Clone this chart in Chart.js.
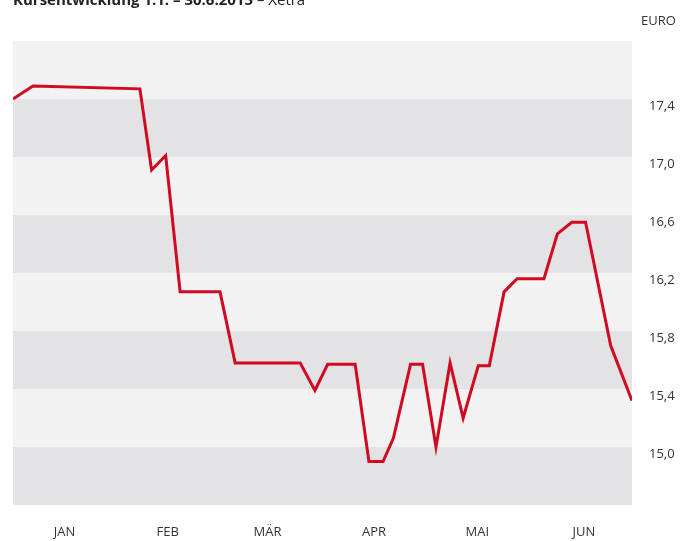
<!DOCTYPE html>
<html>
<head>
<meta charset="utf-8">
<script src="https://cdn.jsdelivr.net/npm/chart.js@4"></script>
<style>
  html, body { margin: 0; padding: 0; background: #fff; }
  #wrap { width: 686px; height: 541px; }
</style>
</head>
<body>
<div id="wrap"><canvas id="kursChart" width="686" height="541"></canvas></div>
<script>
// Tage seit 1.1.2015 und Schlusskurse (EURO)
const tradeDays = [0, 5.8, 36.9, 40.3, 44.4, 48.6, 60.2, 64.6, 83.5, 87.8, 91.5, 99.5, 103.5, 107.6, 110.6, 115.6, 119.1, 123.0, 127.1, 130.9, 135.3, 138.5, 142.8, 146.6, 154.4, 158.3, 162.5, 166.5, 173.8, 180];
const prices    = [17.40, 17.49, 17.47, 16.91, 17.01, 16.07, 16.07, 15.58, 15.58, 15.39, 15.57, 15.57, 14.90, 14.90, 15.06, 15.57, 15.57, 15.00, 15.58, 15.20, 15.56, 15.56, 16.07, 16.16, 16.16, 16.47, 16.55, 16.55, 15.70, 15.32];

const months    = ["JAN", "FEB", "MÄR", "APR", "MAI", "JUN"];
const monthMid  = [15, 45, 74, 105, 135, 166];
const yTicks    = [14.6, 15.0, 15.4, 15.8, 16.2, 16.6, 17.0, 17.4, 17.8];

const fontFam = "'Open Sans', 'Noto Sans', sans-serif";

// abwechselnd helle und dunkle Streifen
const bands = {
  id: "bands",
  beforeDatasetsDraw(chart) {
    const { ctx, chartArea, scales } = chart;
    const y = scales.y;
    ctx.save();
    for (let i = 0; i < yTicks.length - 1; i++) {
      const top = y.getPixelForValue(yTicks[i + 1]);
      const bot = y.getPixelForValue(yTicks[i]);
      ctx.fillStyle = i % 2 === 0 ? "#e3e3e5" : "#f2f2f2";
      ctx.fillRect(chartArea.left, top, chartArea.right - chartArea.left, bot - top);
    }
    ctx.restore();
  },
  afterDraw(chart) {
    const ctx = chart.ctx;
    ctx.save();
    ctx.fillStyle = "#222";
    ctx.textBaseline = "alphabetic";
    ctx.font = "bold 15px " + fontFam;
    const t1 = "Kursentwicklung 1.1. – 30.6.2015";
    ctx.fillText(t1, 13, 5);
    const w = ctx.measureText(t1 + " ").width;
    ctx.font = "15px " + fontFam;
    ctx.fillText("– Xetra", 13 + w, 5);
    ctx.fillStyle = "#333";
    ctx.font = "13px " + fontFam;
    ctx.textBaseline = "middle";
    ctx.fillText("EURO", 641, 21);
    ctx.restore();
  }
};

new Chart(document.getElementById("kursChart"), {
  type: "line",
  data: {
    datasets: [{
      data: tradeDays.map((d, i) => ({ x: d, y: prices[i] })),
      borderColor: "#d10a22",
      borderWidth: 3,
      borderJoinStyle: "miter",
      pointRadius: 0,
      tension: 0,
      fill: false
    }]
  },
  options: {
    responsive: false,
    animation: false,
    layout: { padding: { left: 13, top: 41, right: 0, bottom: 0 } },
    plugins: { legend: { display: false }, tooltip: { enabled: false } },
    scales: {
      x: {
        type: "linear",
        min: 0,
        max: 180,
        grid: { display: false },
        border: { display: false },
        afterBuildTicks: s => { s.ticks = monthMid.map(v => ({ value: v })); },
        afterFit: s => { s.height = 36; },
        ticks: {
          autoSkip: false,
          maxRotation: 0,
          padding: 11,
          color: "#333",
          font: { family: fontFam, size: 13 },
          callback: (v, i) => months[i]
        }
      },
      y: {
        position: "right",
        min: 14.6,
        max: 17.8,
        grid: { display: false },
        border: { display: false },
        afterBuildTicks: s => { s.ticks = yTicks.map(v => ({ value: v })); },
        afterFit: s => { s.width = 54; },
        ticks: {
          padding: 9,
          labelOffset: 7,
          color: "#333",
          font: { family: fontFam, size: 13 },
          callback: v => (v < 14.9 || v > 17.5) ? "" : v.toFixed(1).replace(".", ",")
        }
      }
    }
  },
  plugins: [bands]
});
</script>
</body>
</html>
